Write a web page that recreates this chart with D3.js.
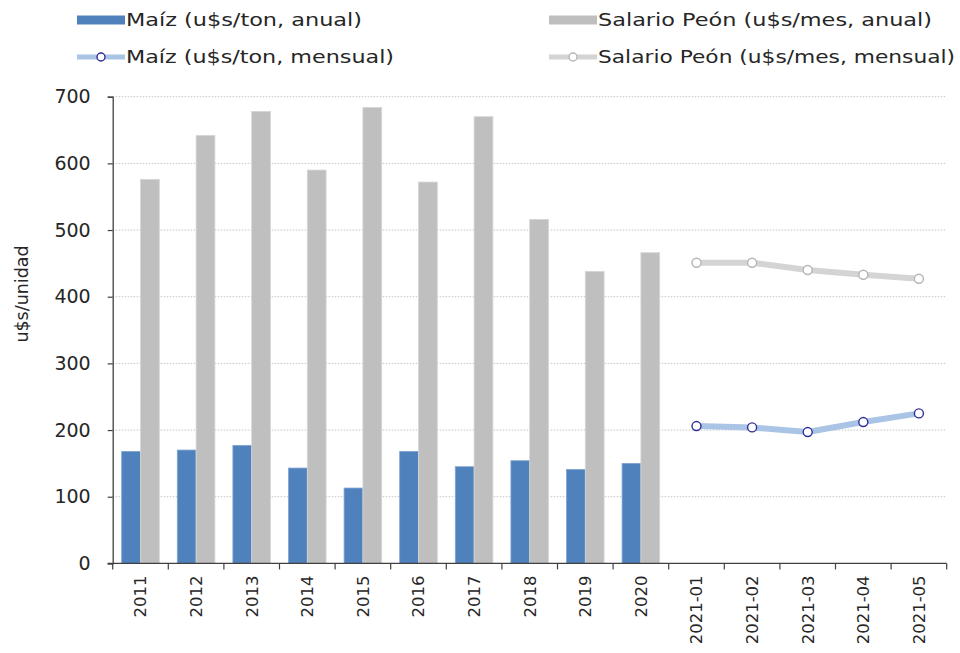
<!DOCTYPE html>
<html>
<head>
<meta charset="utf-8">
<script src="https://cdn.jsdelivr.net/npm/d3@7"></script>
<style>
  html, body { margin: 0; padding: 0; background: #fff; }
  svg { display: block; }
  text { font-family: "Century Gothic", "URW Gothic", "DejaVu Sans", sans-serif; fill: #262626; }
</style>
</head>
<body>
<svg id="chart" width="960" height="653"></svg>
<script>
// Periods on the category axis
const categories = ["2011","2012","2013","2014","2015","2016","2017","2018","2019","2020",
                    "2021-01","2021-02","2021-03","2021-04","2021-05"];
const annualYears = ["2011","2012","2013","2014","2015","2016","2017","2018","2019","2020"];
const maizAnual    = [168, 170, 177, 143, 113, 168, 145, 154, 141, 150];
const salarioAnual = [576, 642, 678, 590, 684, 572, 670, 516, 438, 466];
const months = ["2021-01","2021-02","2021-03","2021-04","2021-05"];
const maizMensual    = [206, 204, 197, 212, 225];
const salarioMensual = [451, 451, 440, 433, 427];
const yTicks = [0, 100, 200, 300, 400, 500, 600, 700];

const legendLabels = [
  "Maíz (u$s/ton, anual)",
  "Salario Peón (u$s/mes, anual)",
  "Maíz (u$s/ton, mensual)",
  "Salario Peón (u$s/mes, mensual)"
];

const svg = d3.select("#chart");
const plotLeft = 112.7, plotRight = 946.7, plotTop = 96.7, plotBottom = 563.4;

const x = d3.scaleBand().domain(categories).range([plotLeft, plotRight]).padding(0);
const y = d3.scaleLinear().domain([0, 700]).range([plotBottom, plotTop]);
const bw = x.bandwidth();
const barW = 18.8;
const groupOff = (bw - 2 * barW) / 2;

const colBlue = "#4f81bd", colGray = "#bfbfbf";

// Dotted horizontal gridlines
svg.append("g").selectAll("line").data(yTicks.filter(d => d > 0)).join("line")
  .attr("x1", plotLeft).attr("x2", plotRight)
  .attr("y1", d => y(d)).attr("y2", d => y(d))
  .attr("stroke", "#c4c4c4").attr("stroke-width", 1)
  .attr("stroke-dasharray", "1.5,1.5");

// Annual bars
const bars = svg.append("g");
bars.selectAll("rect.maiz").data(annualYears).join("rect")
  .attr("class", "maiz")
  .attr("x", (d) => x(d) + groupOff)
  .attr("y", (d, i) => y(maizAnual[i]))
  .attr("width", barW)
  .attr("height", (d, i) => y(0) - y(maizAnual[i]))
  .attr("fill", colBlue)
  .attr("stroke", "#7fa3d0").attr("stroke-width", 0.8);
bars.selectAll("rect.sal").data(annualYears).join("rect")
  .attr("class", "sal")
  .attr("x", (d) => x(d) + groupOff + barW)
  .attr("y", (d, i) => y(salarioAnual[i]))
  .attr("width", barW)
  .attr("height", (d, i) => y(0) - y(salarioAnual[i]))
  .attr("fill", colGray)
  .attr("stroke", "#d6d6d6").attr("stroke-width", 0.8);

// Monthly lines with markers
function drawLine(values, lineColor, markerStroke) {
  const pts = months.map((m, i) => [x(m) + bw / 2, y(values[i])]);
  svg.append("path")
    .attr("d", d3.line()(pts))
    .attr("fill", "none")
    .attr("stroke", lineColor)
    .attr("stroke-width", 6)
    .attr("stroke-linejoin", "round");
  svg.append("g").selectAll("circle").data(pts).join("circle")
    .attr("cx", d => d[0]).attr("cy", d => d[1]).attr("r", 4.5)
    .attr("fill", "#fff").attr("stroke", markerStroke).attr("stroke-width", 1.4);
}
drawLine(salarioMensual, "#d4d4d4", "#b5b5b5");
drawLine(maizMensual, "#a9c4e4", "#2e2e9a");

// Y axis
const yAxis = d3.axisLeft(y).tickValues(yTicks).tickSize(5).tickPadding(17);
const gy = svg.append("g").attr("transform", `translate(${plotLeft},0)`).call(yAxis);
gy.select(".domain").attr("stroke", "#404040").attr("stroke-width", 1.3);
gy.selectAll(".tick line").attr("stroke", "#404040").attr("stroke-width", 1.2);
gy.selectAll(".tick text").style("font-size", "19px").attr("fill", "#262626");

// X axis with ticks at band edges
const gx = svg.append("g").attr("transform", `translate(0,${plotBottom})`);
gx.append("line").attr("x1", plotLeft - 5).attr("x2", plotRight)
  .attr("stroke", "#404040").attr("stroke-width", 1.3);
gx.selectAll("line.tk").data(categories.concat(["__end"])).join("line")
  .attr("class", "tk")
  .attr("x1", (d, i) => plotLeft + i * bw).attr("x2", (d, i) => plotLeft + i * bw)
  .attr("y1", 0).attr("y2", 6)
  .attr("stroke", "#404040").attr("stroke-width", 1.2);
gx.selectAll("text").data(categories).join("text")
  .attr("transform", d => `translate(${x(d) + bw / 2},12) rotate(-90)`)
  .attr("text-anchor", "end")
  .attr("dy", "0.36em")
  .style("font-size", "16.5px")
  .text(d => d);

// Y axis title
svg.append("text")
  .attr("transform", "translate(22,294) rotate(-90)")
  .attr("text-anchor", "middle")
  .attr("dy", "0.36em")
  .style("font-size", "17.5px")
  .text("u$s/unidad");

// Legend
const leg = svg.append("g");
const legItems = [
  { x: 77, y: 20, type: "bar", color: colBlue, label: legendLabels[0], w: 236 },
  { x: 549, y: 20, type: "bar", color: colGray, label: legendLabels[1], w: 334 },
  { x: 77, y: 57, type: "line", color: "#a9c4e4", mk: "#2e2e9a", label: legendLabels[2], w: 268 },
  { x: 549, y: 57, type: "line", color: "#d4d4d4", mk: "#b5b5b5", label: legendLabels[3], w: 357 }
];
legItems.forEach(it => {
  if (it.type === "bar") {
    leg.append("rect").attr("x", it.x).attr("y", it.y - 4.5)
      .attr("width", 48).attr("height", 9).attr("fill", it.color);
  } else {
    leg.append("line").attr("x1", it.x).attr("x2", it.x + 48)
      .attr("y1", it.y).attr("y2", it.y)
      .attr("stroke", it.color).attr("stroke-width", 5);
    leg.append("circle").attr("cx", it.x + 24).attr("cy", it.y).attr("r", 4)
      .attr("fill", "#fff").attr("stroke", it.mk).attr("stroke-width", 1.4);
  }
  leg.append("text").attr("x", it.x + 49).attr("y", it.y)
    .attr("dy", "0.36em")
    .style("font-size", "18px")
    .attr("textLength", it.w)
    .attr("lengthAdjust", "spacingAndGlyphs")
    .text(it.label);
});
</script>
</body>
</html>
